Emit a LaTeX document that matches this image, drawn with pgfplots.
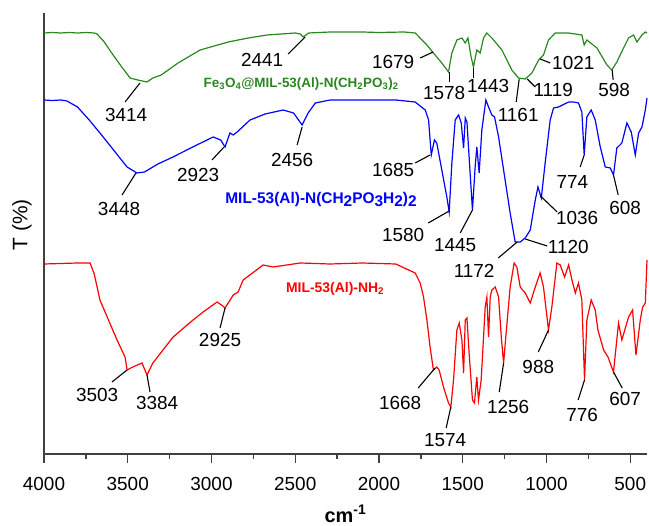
\documentclass[border=0pt]{standalone}
\usepackage{pgfplots}
\pgfplotsset{compat=1.18}
\usepackage{fontspec}
\setmainfont{Liberation Sans}
\definecolor{cgreen}{RGB}{40,135,30}
\definecolor{cblue}{RGB}{0,0,255}
\definecolor{cred}{RGB}{255,0,0}
\newcommand{\nf}{\fontsize{19}{21}\selectfont}
\newcommand{\sub}[1]{\textsubscript{#1}}
\begin{document}
\begin{tikzpicture}
\begin{axis}[
  name=ax, scale only axis, width=603bp, height=441bp,
  xmin=400, xmax=4000, ymin=0, ymax=441, x dir=reverse,
  axis x line*=bottom, axis y line*=left,
  axis line style={line width=1.4bp, black!75},
  ytick=\empty,
  xtick={500,1000,...,4000}, minor x tick num=1,
  tick align=outside, major tick length=8.5bp, minor tick length=4.5bp,
  every tick/.style={line width=1.3bp, black!75},
  /pgf/number format/assume math mode=true,
  /pgf/number format/1000 sep={},
  xticklabel style={font=\nf, anchor=north, inner sep=0pt, yshift=-15bp},
  xlabel={\textbf{cm\textsuperscript{-1}}},
  xlabel style={at={(axis description cs:0.5,0)}, anchor=base, yshift=-68bp, font=\fontsize{20}{22}\selectfont},
  ylabel={T (\%)},
  ylabel style={at={(axis description cs:-0.0365,0.52)}, anchor=center, font=\fontsize{21}{23}\selectfont},
  clip=false,
]
% green: Fe3O4@MIL-53(Al)-N(CH2PO3)2
\addplot[color=cgreen, line width=1.2bp] coordinates {
(4000,421) (3950,421.5) (3900,421) (3850,421.5) (3800,421) (3750,421.5) (3700,421) (3683,420)
(3640,412) (3600,402) (3540,388) (3486,376) (3440,374) (3385,372) (3350,376) (3300,379)
(3200,391) (3068,404) (2900,412) (2780,416) (2668,419) (2500,421) (2470,420) (2453,417)
(2420,421) (2292,422) (2100,422) (2000,421.5) (1850,422) (1784,421) (1714,409) (1675,401)
(1625,391) (1585,382) (1565,401) (1535,414) (1505,416) (1485,411) (1469,416) (1450,397)
(1436,387) (1416,404) (1396,401) (1376,416) (1356,421) (1326,416) (1266,404) (1207,384)
(1167,376) (1127,375) (1087,381) (1047,394) (1018,399) (988,414) (948,421) (870,421)
(789,419) (775,409) (759,414) (699,406) (639,389) (610,384) (580,392) (540,406) (510,416)
(480,419) (460,412) (430,419) (410,422) (400,421)
};
% blue: MIL-53(Al)-N(CH2PO3H2)2
\addplot[color=cblue, line width=1.2bp] coordinates {
(4000,354) (3950,353.5) (3900,354) (3863,353) (3800,347) (3730,334) (3666,321) (3580,303)
(3504,287) (3445,281) (3400,282) (3320,290) (3230,297) (3100,308) (2990,317) (2945,314)
(2919,307) (2890,321) (2870,319) (2847,322) (2770,334) (2680,340) (2572,344) (2510,341)
(2459,329) (2423,341) (2380,351) (2292,354) (2100,354) (1900,354) (1784,352) (1724,344)
(1704,334) (1688,299) (1669,314) (1655,311) (1625,284) (1595,257) (1581,242) (1565,291)
(1545,334) (1525,339) (1509,331) (1495,306) (1485,336) (1475,332) (1456,281) (1442,244)
(1426,287) (1416,307) (1402,281) (1386,324) (1362,354) (1346,347) (1326,339) (1310,337)
(1286,317) (1247,274) (1217,241) (1187,212) (1157,212) (1127,216) (1097,224) (1067,254)
(1051,267) (1031,256) (1008,291) (978,334) (958,346) (928,347) (868,352) (838,352)
(809,351) (789,342) (775,299) (759,337) (733,344) (709,334) (679,307) (649,287) (619,286)
(600,279) (580,306) (550,311) (520,331) (494,322) (470,299) (450,321) (430,327) (410,344)
(400,356)
};
% red: MIL-53(Al)-NH2
\addplot[color=cred, line width=1.2bp] coordinates {
(4000,190) (3900,190.5) (3800,191) (3725,191) (3700,180) (3666,154) (3564,114) (3516,97)
(3504,84) (3470,87) (3415,91) (3385,79) (3350,91) (3229,117) (3110,134) (3050,142)
(2967,152) (2940,149) (2919,146) (2870,159) (2841,162) (2811,174) (2692,189) (2632,187)
(2470,191) (2292,190) (2100,191) (1900,190) (1784,181) (1754,171) (1734,157) (1714,134)
(1695,107) (1675,84) (1655,87) (1641,84) (1615,67) (1585,51) (1571,47) (1555,74)
(1535,124) (1521,131) (1505,114) (1495,81) (1485,134) (1475,136) (1462,101) (1442,54)
(1430,51) (1416,77) (1406,54) (1390,74) (1366,147) (1356,157) (1346,117) (1336,157)
(1326,164) (1306,167) (1286,157) (1270,117) (1256,91) (1243,117) (1217,167) (1193,191)
(1177,187) (1157,167) (1127,161) (1097,151) (1067,167) (1038,181) (1018,167) (988,124)
(968,147) (938,191) (918,189) (892,177) (868,189) (848,174) (828,161) (809,171) (789,154)
(773,74) (759,134) (733,154) (709,144) (693,124) (659,104) (633,97) (600,82) (570,131)
(550,114) (510,137) (486,144) (466,99) (440,134) (426,147) (410,151) (400,194)
};
% leader lines
\begin{scope}[black, line width=1.1bp]
% green
\draw (axis cs:3427,371) -- (axis cs:3516,352);
\draw (axis cs:2441,417) -- (axis cs:2543,400);
\draw (axis cs:1677,402) -- (axis cs:1754,396);
\draw (axis cs:1581,382) -- (axis cs:1581,372);
\draw (axis cs:1438,386) -- (axis cs:1438,376);
\draw (axis cs:1163,375) -- (axis cs:1181,352);
\draw (axis cs:1115,375) -- (axis cs:1067,367);
\draw (axis cs:1038,395) -- (axis cs:978,391);
\draw (axis cs:608,384) -- (axis cs:602,374);
% blue
\draw (axis cs:3451,281) -- (axis cs:3534,259);
\draw (axis cs:2925,307) -- (axis cs:2997,294);
\draw (axis cs:2459,327) -- (axis cs:2489,309);
\draw (axis cs:1695,299) -- (axis cs:1784,291);
\draw (axis cs:1581,243) -- (axis cs:1706,231);
\draw (axis cs:1442,244) -- (axis cs:1515,221);
\draw (axis cs:1175,212) -- (axis cs:1288,196);
\draw (axis cs:1127,215) -- (axis cs:996,208);
\draw (axis cs:1036,258) -- (axis cs:936,242);
\draw (axis cs:775,299) -- (axis cs:799,287);
\draw (axis cs:600,279) -- (axis cs:572,259);
% red
\draw (axis cs:3504,84) -- (axis cs:3594,72);
\draw (axis cs:3385,79) -- (axis cs:3367,62);
\draw (axis cs:2919,146) -- (axis cs:2949,126);
\draw (axis cs:1665,86) -- (axis cs:1766,66);
\draw (axis cs:1571,47) -- (axis cs:1599,26);
\draw (axis cs:1256,91) -- (axis cs:1282,62);
\draw (axis cs:988,124) -- (axis cs:1049,102);
\draw (axis cs:773,74) -- (axis cs:811,54);
\draw (axis cs:600,82) -- (axis cs:548,66);
\end{scope}
% number labels
\begin{scope}[every node/.style={font=\nf, inner sep=0pt, anchor=center}]
\node at (axis cs:3510,339) {3414};
\node at (axis cs:2698,394) {2441};
\node at (axis cs:1916,392) {1679};
\node at (axis cs:1611,361) {1578};
\node at (axis cs:1348,368) {1443};
\node at (axis cs:1169,339) {1161};
\node at (axis cs:960,364) {1119};
\node at (axis cs:840,391) {1021};
\node at (axis cs:596,364) {598};
\node at (axis cs:3552,245) {3448};
\node at (axis cs:3080,279) {2923};
\node at (axis cs:2519,294) {2456};
\node at (axis cs:1916,284) {1685};
\node at (axis cs:1856,219) {1580};
\node at (axis cs:1545,209) {1445};
\node at (axis cs:1432,183) {1172};
\node at (axis cs:870,207) {1120};
\node at (axis cs:817,236) {1036};
\node at (axis cs:846,272) {774};
\node at (axis cs:530,246) {608};
\node at (axis cs:3683,59) {3503};
\node at (axis cs:3325,51) {3384};
\node at (axis cs:2949,114) {2925};
\node at (axis cs:1874,51) {1668};
\node at (axis cs:1605,14) {1574};
\node at (axis cs:1229,47) {1256};
\node at (axis cs:1049,87) {988};
\node at (axis cs:787,39) {776};
\node at (axis cs:530,55) {607};
\end{scope}
% series names
\node[font=\fontsize{13.5}{15}\selectfont\bfseries, text=cgreen, inner sep=0pt] at (axis cs:2465,370)
  {Fe\sub{3}O\sub{4}@MIL-53(Al)-N(CH\sub{2}PO\sub{3})\sub{2}};
\node[font=\fontsize{15.5}{17}\selectfont\bfseries, text=cblue, inner sep=0pt] at (axis cs:2346,254)
  {MIL-53(Al)-N(CH\raisebox{-0.3ex}{2}PO\raisebox{-0.3ex}{3}H\raisebox{-0.3ex}{2})\raisebox{-0.3ex}{2}};
\node[font=\fontsize{14}{16}\selectfont\bfseries, text=cred, inner sep=0pt] at (axis cs:2262,165)
  {MIL-53(Al)-NH\sub{2}};
\end{axis}
\pgfresetboundingbox
\useasboundingbox ([shift={(-44bp,-72bp)}]ax.south west) rectangle ([shift={(2bp,13bp)}]ax.north east);
\end{tikzpicture}
\end{document}
